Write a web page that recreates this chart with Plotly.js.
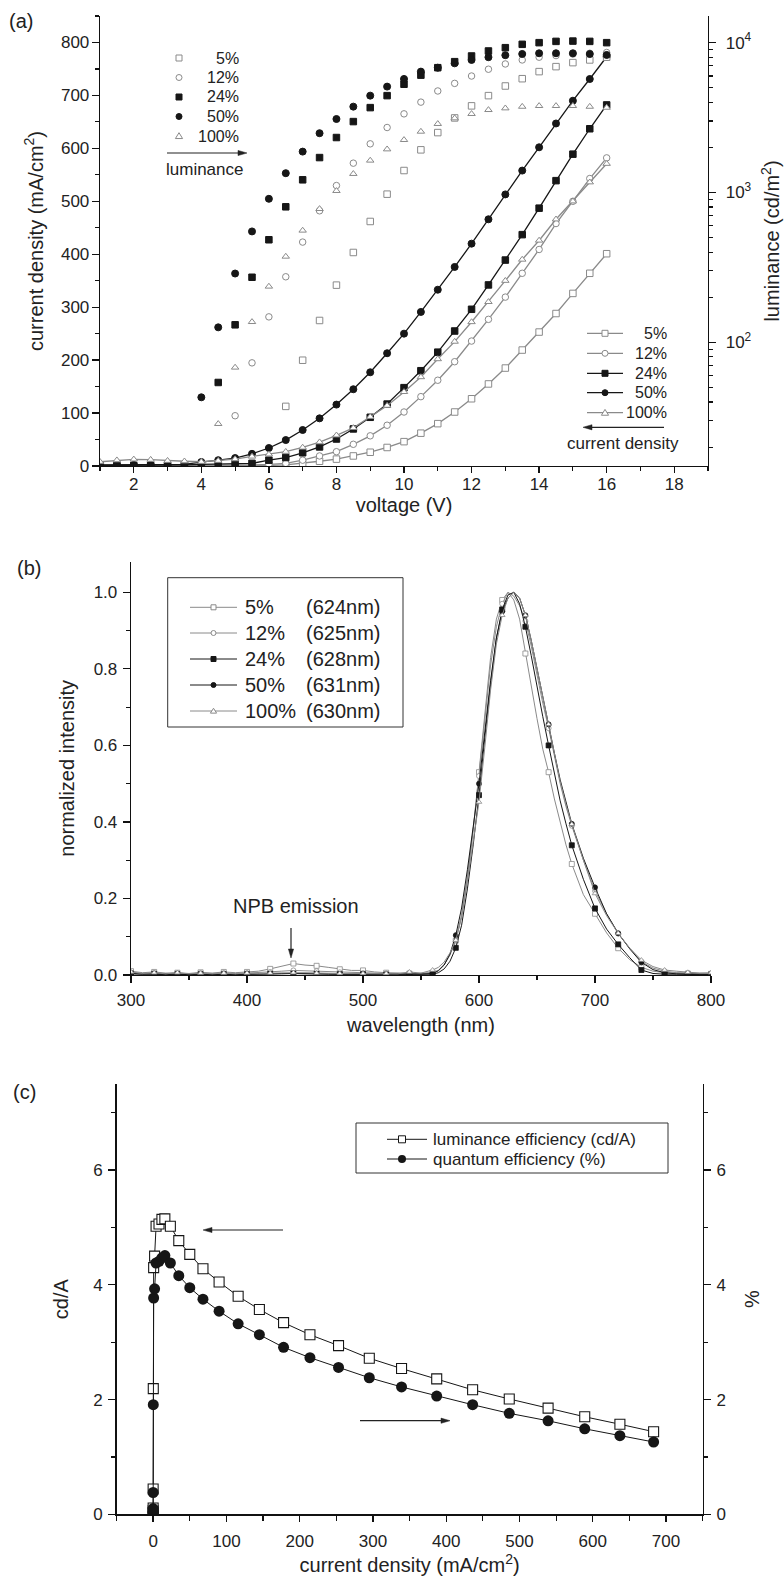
<!DOCTYPE html>
<html><head><meta charset="utf-8">
<script src="https://cdn.plot.ly/plotly-3.0.1.min.js"></script>
<style>html,body{margin:0;padding:0;background:#fff}#chart{width:784px;height:1578px}</style>
</head><body><div id="chart"></div>
<script>
// ---------------- Panel (a) data ----------------
const voltage = [1,1.5,2,2.5,3,3.5,4,4.5,5,5.5,6,6.5,7,7.5,8,8.5,9,9.5,10,10.5,11,11.5,12,12.5,13,13.5,14,14.5,15,15.5,16];
const cd5   = [0,0,0,0,0,0,0,0,0,1,1,2,5,9,13,19,26,35,46,62,80,102,127,155,185,219,253,288,326,364,401];
const cd12  = [1,1,1,1,1,1,1,1,1,2,3,5,11,19,27,41,57,77,102,131,162,197,236,277,319,364,409,458,500,543,582];
const cd24  = [1,1,1,1,1,2,3,4,5,5,11,16,25,36,51,70,92,117,148,180,215,255,296,342,389,437,487,539,589,637,682];
const cd50  = [2,2,2,2,2,3,7.5,11,15,23,34,49,68,90,116,145,177,213,250,291,333,376,420,466,513,558,602,647,690,731,773];
const cd100 = [8,11,12.6,12,10,9,8,10,13,18,22,27,35,45,58,72,93,114,140,168,202,235,272,310,350,390,426,466,500,536,571];
const lum5   = [null,null,null,null,null,null,null,null,null,null,null,37.4,76,140,241,398,641,975,1402,1927,2512,3146,3787,4432,5140,5750,6410,6920,7360,7670,8000];
const lum12  = [null,null,null,null,null,null,null,null,32.4,73,148,274,467,755,1113,1570,2113,2716,3350,4010,4760,5350,5990,6650,7210,7670,8000,8200,8400,8500,8600];
const lum24  = [null,null,null,null,null,null,null,54,131,272,484,803,1216,1711,2328,2974,3687,4432,5280,6070,6810,7470,8150,8800,9260,9750,10000,10200,10250,10200,10000];
const lum50  = [null,null,null,null,null,null,43,126,288,550,908,1346,1875,2488,3095,3743,4432,5090,5727,6410,6810,7280,7670,8000,8250,8410,8500,8500,8500,8400,8280];
const lum100 = [null,null,null,null,null,null,null,28.6,68,137,236,374,558,778,1026,1333,1636,1945,2246,2552,2873,3133,3350,3560,3652,3743,3787,3787,3787,3743,3687];
const seriesNames = ['5%','12%','24%','50%','100%'];
const lumTickText = ['10<sup>2</sup>','10<sup>3</sup>','10<sup>4</sup>'];

// ---------------- Panel (b) data ----------------
const wavelength = [300,310,320,330,340,350,360,370,380,390,400,410,420,430,440,450,460,470,480,490,500,510,520,530,540,550,560,565,570,575,580,585,590,595,600,605,610,615,620,625,630,635,640,645,650,655,660,665,670,675,680,690,700,710,720,730,740,750,760,770,780,790,800];
const spec5   = [0.010,0.006,0.008,0.005,0.006,0.004,0.007,0.005,0.008,0.006,0.008,0.010,0.016,0.024,0.030,0.026,0.024,0.020,0.015,0.012,0.012,0.008,0.006,0.005,0.004,0.004,0.006,0.012,0.028,0.055,0.09,0.155,0.25,0.38,0.53,0.69,0.83,0.93,0.98,1.0,0.98,0.93,0.84,0.76,0.67,0.59,0.53,0.46,0.40,0.34,0.29,0.21,0.16,0.11,0.07,0.04,0.02,0.01,0.006,0.005,0.004,0.004,0.003];
const spec12  = [0.006,0.004,0.005,0.003,0.005,0.003,0.005,0.004,0.005,0.004,0.005,0.006,0.008,0.010,0.012,0.011,0.010,0.008,0.007,0.006,0.005,0.004,0.004,0.003,0.003,0.004,0.006,0.012,0.027,0.052,0.092,0.155,0.255,0.38,0.52,0.67,0.81,0.91,0.97,1.0,0.99,0.965,0.925,0.86,0.78,0.71,0.645,0.57,0.50,0.44,0.39,0.30,0.22,0.16,0.108,0.07,0.035,0.018,0.01,0.006,0.005,0.004,0.004];
const spec24  = [0.004,0.002,0.003,0.002,0.002,0.001,0.002,0.001,0.002,0.001,0.002,0.002,0.003,0.003,0.004,0.003,0.003,0.002,0.002,0.002,0.002,0.001,0.001,0.001,0.001,0.001,0.002,0.006,0.016,0.036,0.071,0.13,0.225,0.34,0.47,0.62,0.76,0.88,0.955,0.993,1.0,0.97,0.91,0.835,0.75,0.675,0.60,0.525,0.455,0.395,0.339,0.25,0.174,0.12,0.080,0.045,0.013,0.004,0.002,0.002,0.001,0.001,0.001];
const spec50  = [0.003,0.002,0.002,0.001,0.002,0.001,0.002,0.001,0.002,0.001,0.002,0.002,0.003,0.004,0.004,0.004,0.003,0.003,0.002,0.002,0.002,0.001,0.001,0.001,0.001,0.002,0.004,0.011,0.026,0.055,0.104,0.175,0.275,0.385,0.50,0.635,0.77,0.88,0.95,0.985,1.0,0.985,0.94,0.875,0.80,0.725,0.655,0.58,0.51,0.45,0.395,0.305,0.229,0.16,0.109,0.068,0.033,0.014,0.006,0.003,0.002,0.002,0.001];
const spec100 = [0.008,0.004,0.006,0.003,0.006,0.003,0.005,0.003,0.005,0.003,0.005,0.004,0.005,0.006,0.006,0.006,0.005,0.004,0.004,0.004,0.004,0.003,0.004,0.003,0.008,0.005,0.013,0.02,0.034,0.058,0.091,0.15,0.245,0.345,0.452,0.595,0.745,0.865,0.94,0.985,1.0,0.985,0.94,0.875,0.80,0.725,0.655,0.575,0.505,0.445,0.394,0.30,0.213,0.155,0.109,0.07,0.039,0.022,0.013,0.01,0.007,0.005,0.006];
const peakLabels = ['(624nm)','(625nm)','(628nm)','(631nm)','(630nm)'];

// ---------------- Panel (c) data ----------------
const currentDensity = [0,0,0,0,0.2,0.7,2,4,8,12,16,23.5,35,50,68,90,116,145,178,214,253,295,339,387,436,486,539,589,637,683];
const lumEfficiency  = [0.03,0.06,0.11,0.44,2.19,4.30,4.50,5.02,5.06,5.14,5.15,5.02,4.77,4.53,4.28,4.05,3.80,3.57,3.34,3.13,2.94,2.72,2.54,2.36,2.17,2.01,1.85,1.70,1.57,1.44];
const quantumEff     = [0.03,0.05,0.10,0.38,1.91,3.77,3.93,4.38,4.41,4.47,4.51,4.38,4.16,3.95,3.75,3.54,3.32,3.13,2.91,2.73,2.56,2.38,2.22,2.06,1.91,1.76,1.63,1.49,1.37,1.26];
const effNames = ['luminance efficiency (cd/A)','quantum efficiency (%)'];

// ---------------- styling / layout ----------------
const FONT = 'Liberation Sans, Arial, Helvetica, sans-serif';
const W = 784, H = 1578;
const PX = x => x / W, PY = y => (H - y) / H;
const GRAY = '#8a8a8a', BLACK = '#161616', AX = '#111', TXT = '#222';
const boxA = {l:100, r:708, t:16, b:466};
const boxB = {l:131, r:711, t:561.7, b:975};
const boxC = {l:116.5, r:702.7, t:1084, b:1514.3};
const xd = b => [PX(b.l), PX(b.r)];
const yd = b => [PY(b.b), PY(b.t)];

const styles = [
  {color:GRAY,  symbol:'square',       fill:'#fff'},
  {color:GRAY,  symbol:'circle',       fill:'#fff'},
  {color:BLACK, symbol:'square',       fill:BLACK},
  {color:BLACK, symbol:'circle',       fill:BLACK},
  {color:GRAY,  symbol:'triangle-up',  fill:'#fff'}
];
const cdSeries = [cd5, cd12, cd24, cd50, cd100];
const lumSeries = [lum5, lum12, lum24, lum50, lum100];
const specSeries = [spec5, spec12, spec24, spec50, spec100];

const traces = [];
cdSeries.forEach((ys, i) => {
  const s = styles[i];
  traces.push({x: voltage, y: ys, name: seriesNames[i] + ' current density', type:'scatter', mode:'lines+markers',
    xaxis:'x', yaxis:'y', showlegend:false, cliponaxis:true,
    line:{color:s.color, width:1.3},
    marker:{symbol:s.symbol, size: i===3 ? 7 : 6.5, color:s.fill, line:{color:s.color, width:1}}});
});
lumSeries.forEach((ys, i) => {
  const s = styles[i];
  traces.push({x: voltage, y: ys, name: seriesNames[i] + ' luminance', type:'scatter', mode:'markers',
    xaxis:'x', yaxis:'y2', showlegend:false,
    marker:{symbol:s.symbol, size: i===3 ? 7 : 6.5, color:s.fill, line:{color:s.color, width:1}}});
});
const markerOpacity = wavelength.map(w => (w % 20 === 0 ? 1 : 0));
specSeries.forEach((ys, i) => {
  const s = styles[i];
  traces.push({x: wavelength, y: ys, name: seriesNames[i] + ' ' + peakLabels[i], type:'scatter', mode:'lines+markers',
    xaxis:'x3', yaxis:'y3', showlegend:false,
    line:{color:s.color, width:1},
    marker:{symbol:s.symbol, size:5, color:s.fill, opacity:markerOpacity, line:{color:s.color, width:0.8}}});
});
traces.push({x: currentDensity, y: lumEfficiency, name: effNames[0], type:'scatter', mode:'lines+markers',
  xaxis:'x4', yaxis:'y4', showlegend:false, line:{color:BLACK, width:1},
  marker:{symbol:'square', size:10, color:'#fff', line:{color:BLACK, width:1.1}}});
traces.push({x: currentDensity, y: quantumEff, name: effNames[1], type:'scatter', mode:'lines+markers',
  xaxis:'x4', yaxis:'y5', showlegend:false, line:{color:BLACK, width:1},
  marker:{symbol:'circle', size:11, color:BLACK, line:{color:BLACK, width:0}}});

function ax(extra) {
  return Object.assign({showgrid:false, zeroline:false, showline:true, linecolor:AX, linewidth:1.3,
    ticks:'outside', tickcolor:AX, tickwidth:1.3, ticklen:7, ticklabelstandoff:2,
    tickfont:{family:FONT, size:16, color:TXT}, automargin:false, fixedrange:true}, extra);
}
const minor = (d, len, side) => ({dtick:d, ticklen:len, tickwidth:1.2, tickcolor:AX, ticks:side || 'outside'});
const decades = [10, 100, 1000];
const minorLog = [];
decades.forEach(d => [2,3,4,5,6,7,8,9].forEach(k => minorLog.push(k * d)));

const titleFont = s => ({family:FONT, size:s, color:TXT});
const tf = s => ({family:FONT, size:s, color:TXT});

const layout = {
  width:W, height:H, margin:{l:0, r:0, t:0, b:0}, paper_bgcolor:'#fff', plot_bgcolor:'rgba(0,0,0,0)',
  font:{family:FONT, color:TXT}, showlegend:false,
  // panel (a)
  xaxis: ax({domain:xd(boxA), anchor:'y', range:[1,19], tick0:0, dtick:2, ticklen:6, minor:minor(1,4),
    tickfont:tf(17), ticklabelstandoff:-4,
    title:{text:'voltage (V)', font:titleFont(20), standoff:5}}),
  xaxis2: ax({overlaying:'x', anchor:'y', side:'top', range:[1,19], tick0:0, dtick:1, ticks:'inside', ticklen:7, showticklabels:false}),
  yaxis: ax({domain:yd(boxA), anchor:'x', range:[0,850], tick0:0, dtick:100, minor:minor(50,4),
    tickfont:tf(17), ticklabelstandoff:-1,
    title:{text:'current density (mA/cm<sup>2</sup>)', font:titleFont(20), standoff:12}}),
  yaxis2: ax({overlaying:'y', anchor:'x', side:'right', type:'log', range:[1.175, 4.178],
    tickmode:'array', tickvals:[100,1000,10000], ticktext:lumTickText, tickfont:tf(17), ticklabelstandoff:6,
    minor:{tickmode:'array', tickvals:minorLog, ticklen:4, tickwidth:1.2, tickcolor:AX, ticks:'outside'},
    title:{text:'luminance (cd/m<sup>2</sup>)', font:titleFont(20), standoff:14}}),
  // panel (b)
  xaxis3: ax({domain:xd(boxB), anchor:'y3', range:[300,800], tick0:0, dtick:100, minor:minor(50,4),
    tickfont:tf(17), title:{text:'wavelength (nm)', font:titleFont(20), standoff:9}}),
  yaxis3: ax({domain:yd(boxB), anchor:'x3', range:[0,1.08], tick0:0, dtick:0.2, tickformat:'.1f', minor:minor(0.1,4),
    tickfont:tf(17), title:{text:'normalized intensity', font:titleFont(20), standoff:13}}),
  // panel (c)
  xaxis4: ax({domain:xd(boxC), anchor:'y4', range:[-50,750], tick0:0, dtick:100, ticklen:6, minor:minor(50,5),
    tickfont:tf(17), ticklabelstandoff:5, title:{text:'current density (mA/cm<sup>2</sup>)', font:titleFont(20), standoff:4}}),
  xaxis5: ax({overlaying:'x4', anchor:'y4', side:'top', range:[-50,750], tick0:0, dtick:50, ticks:'inside', ticklen:7, showticklabels:false}),
  yaxis4: ax({domain:yd(boxC), anchor:'x4', range:[0,7.5], tick0:0, dtick:2, minor:minor(1,4), tickfont:tf(17),
    title:{text:'cd/A', font:titleFont(20), standoff:19}}),
  yaxis5: ax({overlaying:'y4', anchor:'x4', side:'right', range:[0,7.5], tick0:0, dtick:2, minor:minor(1,4), tickfont:tf(17),
    title:{text:'%', font:titleFont(20), standoff:20}}),
  shapes: [], annotations: []
};

// ---- helper drawing for legends / labels (pixel positions) ----
const S = layout.shapes, A = layout.annotations;
function text(t, x, y, size, anchor) {
  A.push({text:t, xref:'paper', yref:'paper', x:PX(x), y:PY(y), xanchor:anchor || 'center', yanchor:'middle',
    showarrow:false, font:{family:FONT, size:size, color:TXT}});
}
function arrow(x0, y0, x1, y1) {
  const len = Math.hypot(x1 - x0, y1 - y0), ux = (x1 - x0) / len, uy = (y1 - y0) / len;
  const hl = 9, hw = 2.6;
  const bx = x1 - ux * hl, by = y1 - uy * hl;
  S.push({type:'line', xref:'paper', yref:'paper', x0:PX(x0), y0:PY(y0), x1:PX(bx + ux * 2), y1:PY(by + uy * 2), line:{color:'#222', width:1.2}});
  S.push({type:'path', xref:'paper', yref:'paper', fillcolor:'#222', line:{color:'#222', width:0.5},
    path:`M ${PX(x1)} ${PY(y1)} L ${PX(bx - uy * hw)} ${PY(by + ux * hw)} L ${PX(bx + uy * hw)} ${PY(by - ux * hw)} Z`});
}
function hline(x0, x1, y, color, w) {
  S.push({type:'line', xref:'paper', yref:'paper', x0:PX(x0), x1:PX(x1), y0:PY(y), y1:PY(y), line:{color:color, width:w || 1.2}});
}
function glyph(st, cx, cy, r) {
  const line = {color:st.color, width:1};
  if (st.symbol === 'square') {
    S.push({type:'rect', xref:'paper', yref:'paper', x0:PX(cx-r), x1:PX(cx+r), y0:PY(cy+r), y1:PY(cy-r), fillcolor:st.fill, line:line});
  } else if (st.symbol === 'circle') {
    S.push({type:'circle', xref:'paper', yref:'paper', x0:PX(cx-r), x1:PX(cx+r), y0:PY(cy+r), y1:PY(cy-r), fillcolor:st.fill, line:line});
  } else {
    S.push({type:'path', xref:'paper', yref:'paper', fillcolor:st.fill, line:line,
      path:`M ${PX(cx-r-0.6)} ${PY(cy+r*0.85)} L ${PX(cx+r+0.6)} ${PY(cy+r*0.85)} L ${PX(cx)} ${PY(cy-r*1.1)} Z`});
  }
}

// panel labels
text('(a)', 21, 21, 20);
text('(b)', 29, 568, 20);
text('(c)', 24, 1092, 20);

// panel (a) luminance legend (markers only)
const rowsA1 = [58, 77.5, 97, 116.5, 136];
seriesNames.forEach((n, i) => { glyph(styles[i], 179, rowsA1[i], 3); text(n, 241, rowsA1[i], 16, 'right'); });
arrow(167, 153, 247, 153);
text('luminance', 205, 169, 17);

// panel (a) current density legend (line + marker)
const rowsA2 = [333.3, 353.3, 373.3, 392.7, 412.7];
seriesNames.forEach((n, i) => { hline(587, 623, rowsA2[i], styles[i].color, 1.3); glyph(styles[i], 605, rowsA2[i], 3); text(n, 669, rowsA2[i], 16, 'right'); });
arrow(664, 427.3, 583, 427.3);
text('current density', 623, 444, 17);

// panel (b) legend
S.push({type:'rect', xref:'paper', yref:'paper', x0:PX(167.7), x1:PX(403), y0:PY(727), y1:PY(577.7), line:{color:'#333', width:1}, fillcolor:'rgba(0,0,0,0)'});
const rowsB = [607.3, 633, 659, 685, 711];
seriesNames.forEach((n, i) => {
  hline(190, 237, rowsB[i], styles[i].color, 1);
  glyph(styles[i], 213.5, rowsB[i], 2.5);
  text(n, 243, rowsB[i], 20, 'left');
  text(peakLabels[i], 304, rowsB[i], 20, 'left');
});
text('NPB emission', 296, 905.5, 20);
arrow(291, 928, 291, 958);

// panel (c) legend
S.push({type:'rect', xref:'paper', yref:'paper', x0:PX(356), x1:PX(668), y0:PY(1173), y1:PY(1123), line:{color:'#333', width:1}, fillcolor:'rgba(0,0,0,0)'});
hline(387, 427, 1139.3, BLACK, 1);
S.push({type:'rect', xref:'paper', yref:'paper', x0:PX(398.5), x1:PX(405.5), y0:PY(1142.8), y1:PY(1135.8), fillcolor:'#fff', line:{color:BLACK, width:1}});
text(effNames[0], 431, 1139.3, 17, 'left');
hline(387, 427, 1159, BLACK, 1);
S.push({type:'circle', xref:'paper', yref:'paper', x0:PX(398), x1:PX(406), y0:PY(1163), y1:PY(1155), fillcolor:BLACK, line:{color:BLACK, width:0}});
text(effNames[1], 431, 1159, 17, 'left');
arrow(283, 1230, 203, 1230);
arrow(360, 1420.7, 450, 1420.7);

Plotly.newPlot('chart', traces, layout, {displayModeBar:false, staticPlot:true});
</script>
</body></html>
